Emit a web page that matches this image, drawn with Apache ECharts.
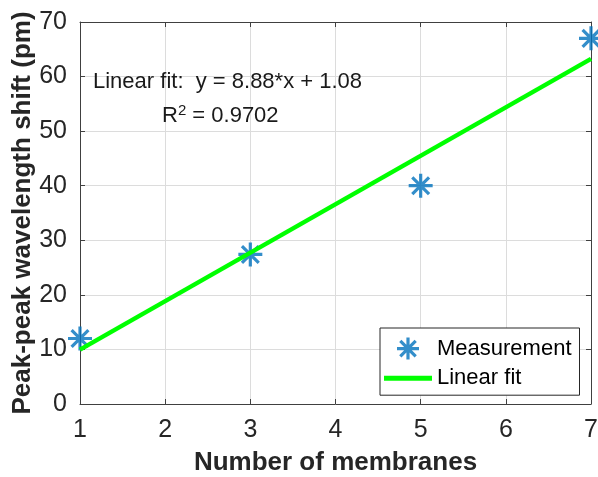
<!DOCTYPE html>
<html>
<head>
<meta charset="utf-8">
<style>
  html, body { margin: 0; padding: 0; background: #fff; }
  #chart { width: 598px; height: 477px; }
</style>
<script src="https://cdn.jsdelivr.net/npm/echarts@6/dist/echarts.min.js"></script>
</head>
<body>
<div id="chart"></div>
<script>
// Measured peak-peak wavelength shift versus number of stacked membranes
const membranes = [1, 3, 5, 7];
const shiftPm = [12, 27.4, 40, 67];

// Least-squares fit reported on the chart
const fitSlope = 8.88;
const fitIntercept = 1.08;
const fitR2 = 0.9702;
const fitRange = [1, 7];

const xTicks = [1, 2, 3, 4, 5, 6, 7];
const yTicks = [0, 10, 20, 30, 40, 50, 60, 70];

const FONT = 'Liberation Sans, Arial, Helvetica, sans-serif';
const INK = '#262626';
const BLUE = '#0072BD';
const GREEN = '#00FF00';
const STAR = 'path://M10,0 L10,20 M0,10 L20,10 M3,3 L17,17 M3,17 L17,3';
const BAR = 'path://M0,0 L48,0 L48,5 L0,5 Z';

const measured = membranes.map((m, i) => [m, shiftPm[i]]);
const fitLine = fitRange.map(x => [x, fitSlope * x + fitIntercept]);

const chart = echarts.init(document.getElementById('chart'), null, { renderer: 'canvas' });

const frameAxis = {
  axisLine: { show: true, onZero: false, lineStyle: { color: '#404040', width: 1 } },
  axisTick: { show: true, inside: true, length: 5, lineStyle: { color: '#404040' } },
  axisLabel: { show: false },
  splitLine: { show: false }
};

chart.setOption({
  animation: false,
  backgroundColor: '#fff',
  grid: { left: 80, right: 7, top: 22, bottom: 73, containLabel: false, outerBoundsMode: 'none' },
  xAxis: [
    {
      type: 'value', min: xTicks[0], max: xTicks[xTicks.length - 1], interval: 1,
      name: 'Number of membranes', nameLocation: 'middle', nameGap: 46,
      nameTextStyle: { fontFamily: FONT, fontSize: 26, fontWeight: 'bold', color: INK },
      axisLine: { show: true, onZero: false, lineStyle: { color: '#404040', width: 1 } },
      axisTick: { show: true, inside: true, length: 5, lineStyle: { color: '#404040' } },
      axisLabel: { fontFamily: FONT, fontSize: 25, color: INK, margin: 14 },
      splitLine: { show: true, lineStyle: { color: '#dcdcdc', width: 1 } }
    },
    Object.assign({}, frameAxis, { type: 'value', position: 'top', min: xTicks[0], max: xTicks[xTicks.length - 1], interval: 1 })
  ],
  yAxis: [
    {
      type: 'value', min: yTicks[0], max: yTicks[yTicks.length - 1], interval: 10,
      name: 'Peak-peak wavelength shift (pm)', nameLocation: 'middle', nameGap: 44,
      nameMoveOverlap: false,
      nameTextStyle: { fontFamily: FONT, fontSize: 26, fontWeight: 'bold', color: INK },
      axisLine: { show: true, onZero: false, lineStyle: { color: '#404040', width: 1 } },
      axisTick: { show: true, inside: true, length: 5, lineStyle: { color: '#404040' } },
      axisLabel: { fontFamily: FONT, fontSize: 25, color: INK, margin: 13 },
      splitLine: { show: true, lineStyle: { color: '#dcdcdc', width: 1 } }
    },
    Object.assign({}, frameAxis, { type: 'value', position: 'right', min: yTicks[0], max: yTicks[yTicks.length - 1], interval: 10 })
  ],
  legend: {
    orient: 'vertical',
    left: 380, top: 328,
    padding: [8, 8, 6, 4],
    itemGap: 6,
    itemWidth: 48, itemHeight: 22,
    backgroundColor: '#fff',
    borderColor: '#262626', borderWidth: 1, borderRadius: 0,
    textStyle: { fontFamily: FONT, fontSize: 22, color: '#000' },
    data: [
      { name: 'Measurement', icon: STAR, itemStyle: { color: BLUE, borderColor: BLUE, borderWidth: 3.2 } },
      { name: 'Linear fit', icon: BAR, itemStyle: { color: GREEN, borderWidth: 0 } }
    ]
  },
  series: [
    {
      name: 'Measurement',
      type: 'scatter',
      data: measured,
      symbol: STAR,
      symbolSize: 24,
      itemStyle: { color: BLUE, borderColor: BLUE, borderWidth: 3.2 },
      z: 3
    },
    {
      name: 'Linear fit',
      type: 'line',
      data: fitLine,
      symbol: 'none',
      lineStyle: { color: GREEN, width: 4.5 },
      itemStyle: { color: GREEN },
      z: 4
    }
  ],
  graphic: [
    {
      type: 'text', left: 93, top: 71, z: 10,
      style: {
        text: 'Linear fit:  y = ' + fitSlope.toFixed(2) + '*x + ' + fitIntercept.toFixed(2),
        font: '22px ' + FONT, fill: '#1a1a1a'
      }
    },
    {
      type: 'text', left: 162, top: 103, z: 10,
      style: {
        text: 'R{sup|2} = ' + fitR2.toFixed(4),
        font: '22px ' + FONT, fill: '#1a1a1a',
        rich: {
          sup: { fontSize: 15, fontFamily: FONT, verticalAlign: 'top', padding: [0, 0, 10, 0], fill: '#1a1a1a' }
        }
      }
    }
  ]
});
</script>
</body>
</html>
